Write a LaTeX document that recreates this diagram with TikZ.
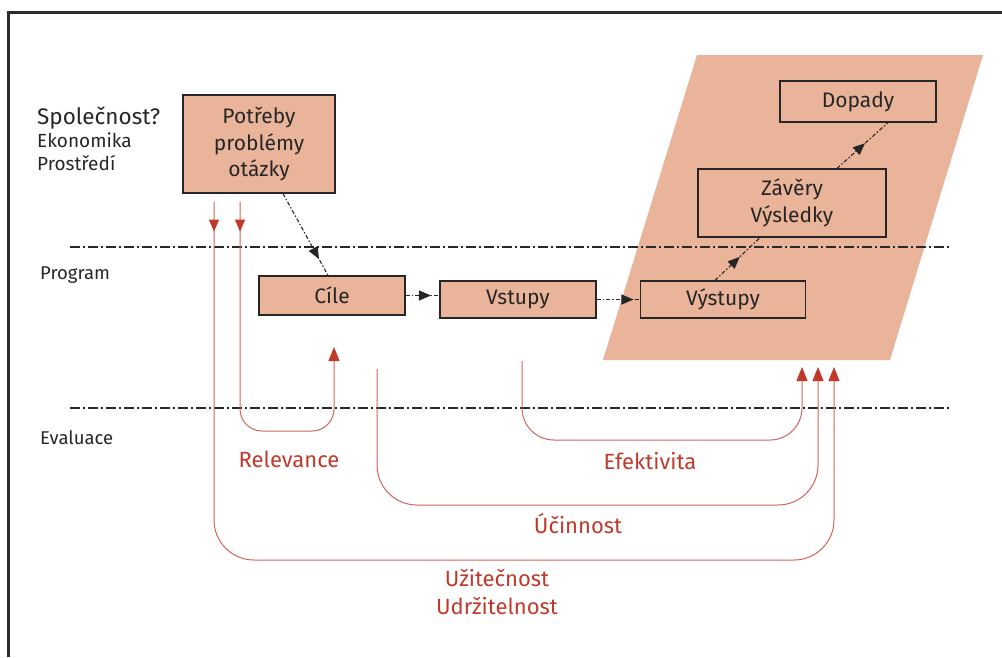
\documentclass[tikz,border=0pt]{standalone}
\usepackage{fontspec}
\setmainfont{Fira Sans}
\usetikzlibrary{arrows.meta,decorations.markings}
\definecolor{salmon}{RGB}{233,180,154}
\definecolor{redtxt}{RGB}{192,57,43}
\definecolor{redln}{RGB}{210,100,90}
\definecolor{framec}{RGB}{45,45,45}
\definecolor{linec}{RGB}{40,40,40}
\begin{document}
\begin{tikzpicture}[x=1pt,y=-1pt,
  box/.style={draw=black!85, line width=1.2pt, fill=salmon, inner sep=0pt, align=center,
    text=black!85, font=\fontsize{21}{26.5}\selectfont},
  flow/.style={draw=black!85, line width=1.1pt, dash pattern=on 4pt off 2pt on 1.5pt off 2pt,
    postaction={decorate}, decoration={markings, mark=at position #1 with
    {\arrow[solid]{Triangle[length=12pt,width=10pt]}}}},
  sep/.style={draw=linec, line width=1.3pt, dash pattern=on 10pt off 3pt on 2pt off 3pt},
  redpath/.style={draw=redln, line width=1pt},
  redtip/.style={-{Triangle[length=14pt,width=11pt,color=redtxt]}},
  downmark/.style={postaction={decorate}, decoration={markings, mark=at position 30pt with
    {\arrow{Triangle[length=12pt,width=10pt,color=redtxt]}}}},
  lbl/.style={inner sep=0pt, anchor=west, text=black!85},
  rlbl/.style={inner sep=0pt, text=redtxt, align=center, font=\fontsize{22}{28}\selectfont}
]
\useasboundingbox (0,0) rectangle (1002,657);
% frame
\draw[framec, line width=3pt] (8,657) -- (8,12) -- (1002,12);
% parallelogram
\fill[salmon] (697,55) -- (983,55) -- (890,360) -- (603,360) -- cycle;
% separators
\draw[sep] (70,247) -- (950,247);
\draw[sep] (70,408) -- (950,408);
% left labels
\node[lbl, font=\fontsize{22.5}{24}\selectfont] (soc) at (37,118) {Společnost?};
\node[lbl, font=\fontsize{19}{20}\selectfont] (eko) at (37,140) {Ekonomika};
\node[lbl, font=\fontsize{19}{20}\selectfont] (pro) at (37,163) {Prostředí};
\node[lbl, font=\fontsize{18.5}{20}\selectfont] (prg) at (40,275) {Program};
\node[lbl, font=\fontsize{18.5}{20}\selectfont] (eva) at (40,438) {Evaluace};
% boxes
\node[box, minimum width=152pt, minimum height=98pt] (pot) at (259,144) {Potřeby\\problémy\\otázky};
\node[box, minimum width=146pt, minimum height=39pt] (cile) at (332,295.5) {Cíle};
\node[box, minimum width=156pt, minimum height=37pt] (vst) at (518,299.5) {Vstupy};
\node[box, minimum width=165pt, minimum height=37pt] (vys) at (723,299.5) {Výstupy};
\node[box, minimum width=188pt, minimum height=68pt] (zav) at (792,203) {Závěry\\Výsledky};
\node[box, minimum width=156pt, minimum height=41pt] (dop) at (858,101.5) {Dopady};
% flow connectors
\draw[flow=0.8] ([xshift=24pt]pot.south) -- ([xshift=-4pt]cile.north);
\draw[flow=0.75] (cile.east) -- (cile.east -| vst.west);
\draw[flow=0.85] (vst.east) -- (vys.west);
\draw[flow=0.55] ([xshift=-8pt]vys.north) -- ([xshift=-32pt]zav.south);
\draw[flow=0.55] ([xshift=45pt]zav.north) -- ([xshift=30pt]dop.south);
% red evaluation arrows
\coordinate (t1) at (802,367);
\coordinate (t2) at (818,367);
\coordinate (t3) at (834,367);
\coordinate (trel) at (334,347);
\coordinate (sef) at (522,361);
\coordinate (sun) at (377,369);
\draw[redpath, redtip, downmark, rounded corners=40pt]
  ([xshift=-45pt,yshift=-8pt]pot.south) -- (214,560) -- (834,560) -- (t3);
\draw[redpath, redtip, downmark, rounded corners=22pt]
  ([xshift=-19pt,yshift=-8pt]pot.south) -- (240,431) -- (334,431) -- (trel);
\draw[redpath, redtip, rounded corners=40pt]
  (sun) -- (377,505) -- (818,505) -- (t2);
\draw[redpath, redtip, rounded corners=32pt]
  (sef) -- (522,440) -- (802,440) -- (t1);
% red labels
\node[rlbl] (rel) at (289,459) {Relevance};
\node[rlbl] (efe) at (650,461) {Efektivita};
\node[rlbl] (uci) at (578,524) {Účinnost};
\node[rlbl] (uzi) at (497,592) {Užitečnost\\Udržitelnost};
\end{tikzpicture}
\end{document}
